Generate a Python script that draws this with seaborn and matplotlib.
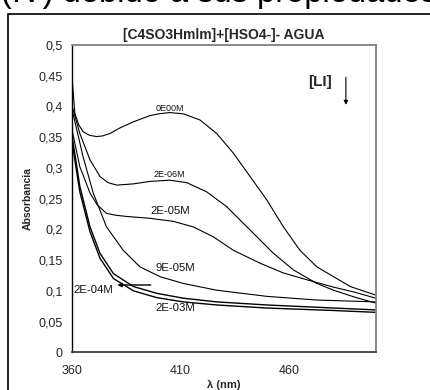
import matplotlib
matplotlib.use("Agg")
import matplotlib.pyplot as plt
import seaborn as sns
import pandas as pd
from matplotlib.patches import Rectangle

sns.set_style("white")
plt.rcParams['font.family'] = ['Liberation Sans', 'DejaVu Sans']

# ---- data ----
x_0E00 = [360, 361.2, 363, 365, 368, 371.2, 374, 377.4, 382, 388.2, 395.8, 400, 405, 411.2, 418.9,
          426.6, 434.3, 442, 449.7, 457.4, 465, 472.8, 480.5, 488.2, 500]
y_0E00 = [0.443, 0.389, 0.370, 0.359, 0.353, 0.351, 0.352, 0.356, 0.365, 0.375, 0.385, 0.388, 0.390,
          0.388, 0.378, 0.356, 0.324, 0.286, 0.248, 0.204, 0.166, 0.139, 0.123, 0.107, 0.093]

x_2E06 = [360, 363.5, 368.2, 372.8, 376.5, 380.5, 388.2, 395.8, 405, 412.8, 422, 431.2, 442,
          452.8, 462, 472.8, 480.5, 490, 500]
y_2E06 = [0.400, 0.356, 0.313, 0.286, 0.276, 0.272, 0.274, 0.278, 0.280, 0.276, 0.261, 0.237, 0.199,
          0.161, 0.134, 0.112, 0.101, 0.090, 0.080]

x_2E05 = [360, 363.5, 368.2, 371.5, 375.8, 380, 385.1, 395.8, 406.6, 415.8, 425, 434.3, 446.6,
          457.4, 468.2, 480.5, 490, 500]
y_2E05 = [0.360, 0.302, 0.259, 0.240, 0.226, 0.223, 0.221, 0.218, 0.213, 0.204, 0.188, 0.166, 0.145,
          0.129, 0.118, 0.106, 0.098, 0.088]

x_9E05 = [360, 365, 369.7, 375.8, 383.5, 391.2, 400.5, 411.2, 426.6, 449.7, 472.8, 500]
y_9E05 = [0.394, 0.318, 0.259, 0.204, 0.166, 0.139, 0.123, 0.112, 0.101, 0.091, 0.085, 0.082]

x_2E04 = [360, 363.5, 368.2, 372.8, 379, 388.2, 398.9, 411.2, 426.6, 449.7, 480.5, 500]
y_2E04 = [0.350, 0.270, 0.204, 0.161, 0.128, 0.107, 0.096, 0.088, 0.082, 0.077, 0.072, 0.069]

x_2E03 = [360, 363.5, 368.2, 372.8, 379, 388.2, 398.9, 411.2, 426.6, 449.7, 480.5, 500]
y_2E03 = [0.340, 0.261, 0.196, 0.153, 0.120, 0.100, 0.089, 0.082, 0.077, 0.072, 0.068, 0.065]

series_names = ["0E00M", "2E-06M", "2E-05M", "9E-05M", "2E-04M", "2E-03M"]
series_x = [x_0E00, x_2E06, x_2E05, x_9E05, x_2E04, x_2E03]
series_y = [y_0E00, y_2E06, y_2E05, y_9E05, y_2E04, y_2E03]

x_ticks = [360, 410, 460]
y_ticks = [0, 0.05, 0.1, 0.15, 0.2, 0.25, 0.3, 0.35, 0.4, 0.45, 0.5]
y_ticklabels = ["0", "0,05", "0,1", "0,15", "0,2", "0,25", "0,3", "0,35", "0,4", "0,45", "0,5"]

# label positions (data coords) and sizes
label_pos = {"0E00M": (405, 0.397, 6.5), "2E-06M": (405, 0.290, 6.5), "2E-05M": (405, 0.230, 8.2),
             "9E-05M": (407.4, 0.137, 8.2), "2E-03M": (407.4, 0.072, 8.2)}

df = pd.concat([pd.DataFrame({"x": xs, "y": ys, "serie": n})
                for n, xs, ys in zip(series_names, series_x, series_y)], ignore_index=True)

fig = plt.figure(figsize=(4.3, 3.9), dpi=100)
ax = fig.add_axes([0.168, 0.0967, 0.706, 0.788])

lw_map = {"0E00M": 0.8, "2E-06M": 0.8, "2E-05M": 0.8, "9E-05M": 0.8, "2E-04M": 1.0, "2E-03M": 1.0}
for n in series_names:
    sns.lineplot(data=df[df.serie == n], x="x", y="y", ax=ax, color="black",
                 linewidth=lw_map[n], legend=False, estimator=None, sort=False)

ax.set_xlim(360, 500)
ax.set_ylim(0, 0.5)
ax.set_xticks(x_ticks)
ax.set_xticklabels([str(t) for t in x_ticks], fontsize=9)
ax.set_yticks(y_ticks)
ax.set_yticklabels(y_ticklabels, fontsize=9)
ax.tick_params(axis='both', direction='out', length=4, width=0.8, color='black', pad=3)
ax.tick_params(axis='x', pad=5)

ax.spines["left"].set_color("black"); ax.spines["left"].set_linewidth(1.0)
ax.spines["bottom"].set_color("#404040"); ax.spines["bottom"].set_linewidth(1.3)
for s in ["top", "right"]:
    ax.spines[s].set_color("#808080"); ax.spines[s].set_linewidth(1.3)

ax.set_xlabel("λ (nm)", fontsize=8, fontweight="bold", labelpad=2)
ax.set_ylabel("Absorbancia", fontsize=7.5, fontweight="bold", labelpad=4)
ax.set_title("[C4SO3Hmlm]+[HSO4-]- AGUA", fontsize=10, fontweight="bold", pad=4)

for n, (lx, ly, fs) in label_pos.items():
    ax.text(lx, ly, n, fontsize=fs, ha="center", va="center", color="#111111")

ax.annotate("", xy=(379.5, 0.1095), xytext=(397.5, 0.1095),
            arrowprops=dict(arrowstyle="-|>", color="black", lw=1.0, mutation_scale=6))
ax.text(369.7, 0.101, "2E-04M", fontsize=8.2, ha="center", va="center", color="#111111")

ax.text(474.3, 0.439, "[LI]", fontsize=11, fontweight="bold", ha="center", va="center")
ax.annotate("", xy=(486.2, 0.398), xytext=(486.2, 0.452),
            arrowprops=dict(arrowstyle="-|>", color="black", lw=0.8, mutation_scale=6))

# outer frame and clipped heading of the document page
fig.patches.append(Rectangle((8 / 430, -0.1), 1.2, 1 - 13.5 / 390 + 0.1, transform=fig.transFigure,
                             fill=False, edgecolor="black", linewidth=1.2, clip_on=False))
fig.text(0.002, 1 - 9 / 390, "(IV) debido a sus propiedades", fontsize=23.5, ha="left",
         va="bottom", color="black")

fig.savefig("out.png", dpi=100)
